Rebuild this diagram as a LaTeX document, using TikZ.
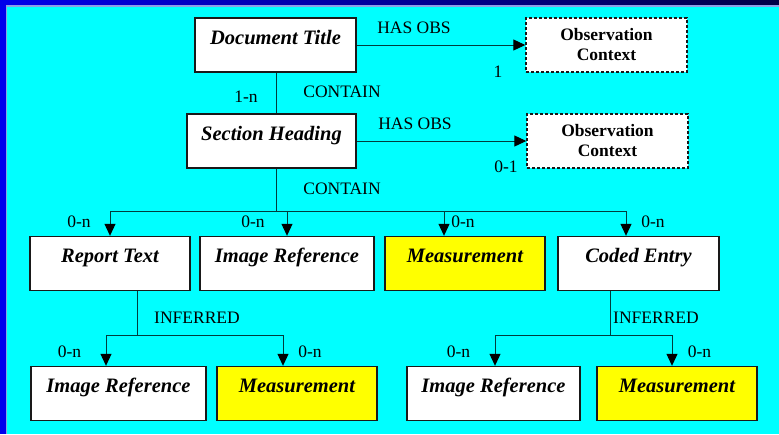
\documentclass[tikz,border=0pt]{standalone}
\usepackage{fontspec}
\setmainfont{Liberation Serif}
\usetikzlibrary{arrows.meta}
\definecolor{bgcyan}{RGB}{0,255,255}
\definecolor{boxyellow}{RGB}{255,255,0}
\definecolor{linecol}{RGB}{0,60,60}
\definecolor{framelt}{RGB}{140,160,230}
\begin{document}
\begin{tikzpicture}[x=1pt,y=-1pt,
  box/.style={draw=black!90,line width=1.4pt,fill=white,minimum width=#1,inner xsep=0pt,inner ysep=2pt,
    text height=24pt,text depth=26pt,font=\fontsize{20.5}{22}\selectfont\bfseries\itshape},
  ybox/.style={box=#1,fill=boxyellow},
  obsbox/.style={draw=black!90,line width=1.4pt,dashed,dash pattern=on 3pt off 2pt,fill=white,
    minimum width=161pt,minimum height=54pt,align=center,inner sep=0pt,
    font=\fontsize{17.5}{20}\selectfont\bfseries},
  conn/.style={draw=linecol,line width=1pt},
  arr/.style={conn,-{Triangle[length=12pt,width=11pt,black]}},
  lbl/.style={inner sep=0pt,font=\fontsize{17.5}{20}\selectfont}]
\useasboundingbox (0,0) rectangle (779,434);
% background frame
\fill[blue!93!black] (0,0) rectangle (779,434);
\shade[left color={rgb,255:red,0;green,0;blue,235},right color={rgb,255:red,0;green,0;blue,70}] (0,0) rectangle (779,5);
\fill[framelt] (6,5) rectangle (779,6.5);
\fill[framelt] (5.5,5) rectangle (7,434);
\fill[bgcyan] (7,6.5) rectangle (779,434);
% nodes
\node[box=161pt] (dt) at (275.5,45) {Document Title};
\node[box=169pt] (sh) at (271.5,141) {Section Heading};
\node[obsbox] (oc1) at (606.5,45) {Observation\\Context};
\node[obsbox] (oc2) at (607.5,141) {Observation\\Context};
\node[box=160pt] (rt) at (110,263.5) {Report Text};
\node[box=174pt] (ir1) at (287,263.5) {Image Reference};
\node[ybox=160pt] (ms1) at (465,263.5) {Measurement};
\node[box=161pt] (ce) at (638.5,263.5) {Coded Entry};
\node[box=175pt] (ir2) at (118.5,393.5) {Image Reference};
\node[ybox=160pt] (ms2) at (297,393.5) {Measurement};
\node[box=173pt] (ir3) at (493.5,393.5) {Image Reference};
\node[ybox=160pt] (ms3) at (677,393.5) {Measurement};
% coordinates
\coordinate (dtx) at (276,0);
\coordinate (bus) at (276,211);
\coordinate (t3) at (444,211);
\coordinate (t4) at (626,211);
\coordinate (rtx) at (137,0);
\coordinate (jl) at (137,335);
\coordinate (l1) at (106,335);
\coordinate (l2) at (283,335);
\coordinate (cex) at (610,0);
\coordinate (jr) at (610,335);
\coordinate (r1) at (495,335);
\coordinate (r2) at (672,335);
% connectors
\draw[conn] (dt.south -| dtx) -- (sh.north -| dtx);
\draw[arr] (dt.east) -- (oc1.west);
\draw[arr] (sh.east) -- (oc2.west);
\draw[conn] (sh.south -| bus) -- (bus);
\draw[arr] (bus) -| (rt.north);
\draw[arr] (bus) -| (ir1.north);
\draw[arr] (bus) -| (ms1.north -| t3);
\draw[arr] (bus) -| (ce.north -| t4);
\draw[conn] (rt.south -| rtx) -- (jl);
\draw[arr] (jl) -| (ir2.north -| l1);
\draw[arr] (jl) -| (ms2.north -| l2);
\draw[conn] (ce.south -| cex) -- (jr);
\draw[arr] (jr) -| (ir3.north -| r1);
\draw[arr] (jr) -| (ms3.north -| r2);
% labels
\node[lbl] (lb1) at (414,28) {HAS OBS};
\node[lbl] (lb2) at (415,124) {HAS OBS};
\node[lbl] (lb3) at (498,72) {1};
\node[lbl] (lb4) at (506,167) {0-1};
\node[lbl] (lb5) at (246,97) {1-n};
\node[lbl] (lb6) at (342,92) {CONTAIN};
\node[lbl] (lb7) at (342,189) {CONTAIN};
\node[lbl] (lb8) at (79,222) {0-n};
\node[lbl] (lb9) at (253,222) {0-n};
\node[lbl] (lb10) at (463,222) {0-n};
\node[lbl] (lb11) at (653,222) {0-n};
\node[lbl] (lb12) at (197,318) {INFERRED};
\node[lbl] (lb13) at (656,318) {INFERRED};
\node[lbl] (lb14) at (69.5,352) {0-n};
\node[lbl] (lb15) at (310,352) {0-n};
\node[lbl] (lb16) at (458.5,352) {0-n};
\node[lbl] (lb17) at (699.5,352) {0-n};
\end{tikzpicture}
\end{document}
